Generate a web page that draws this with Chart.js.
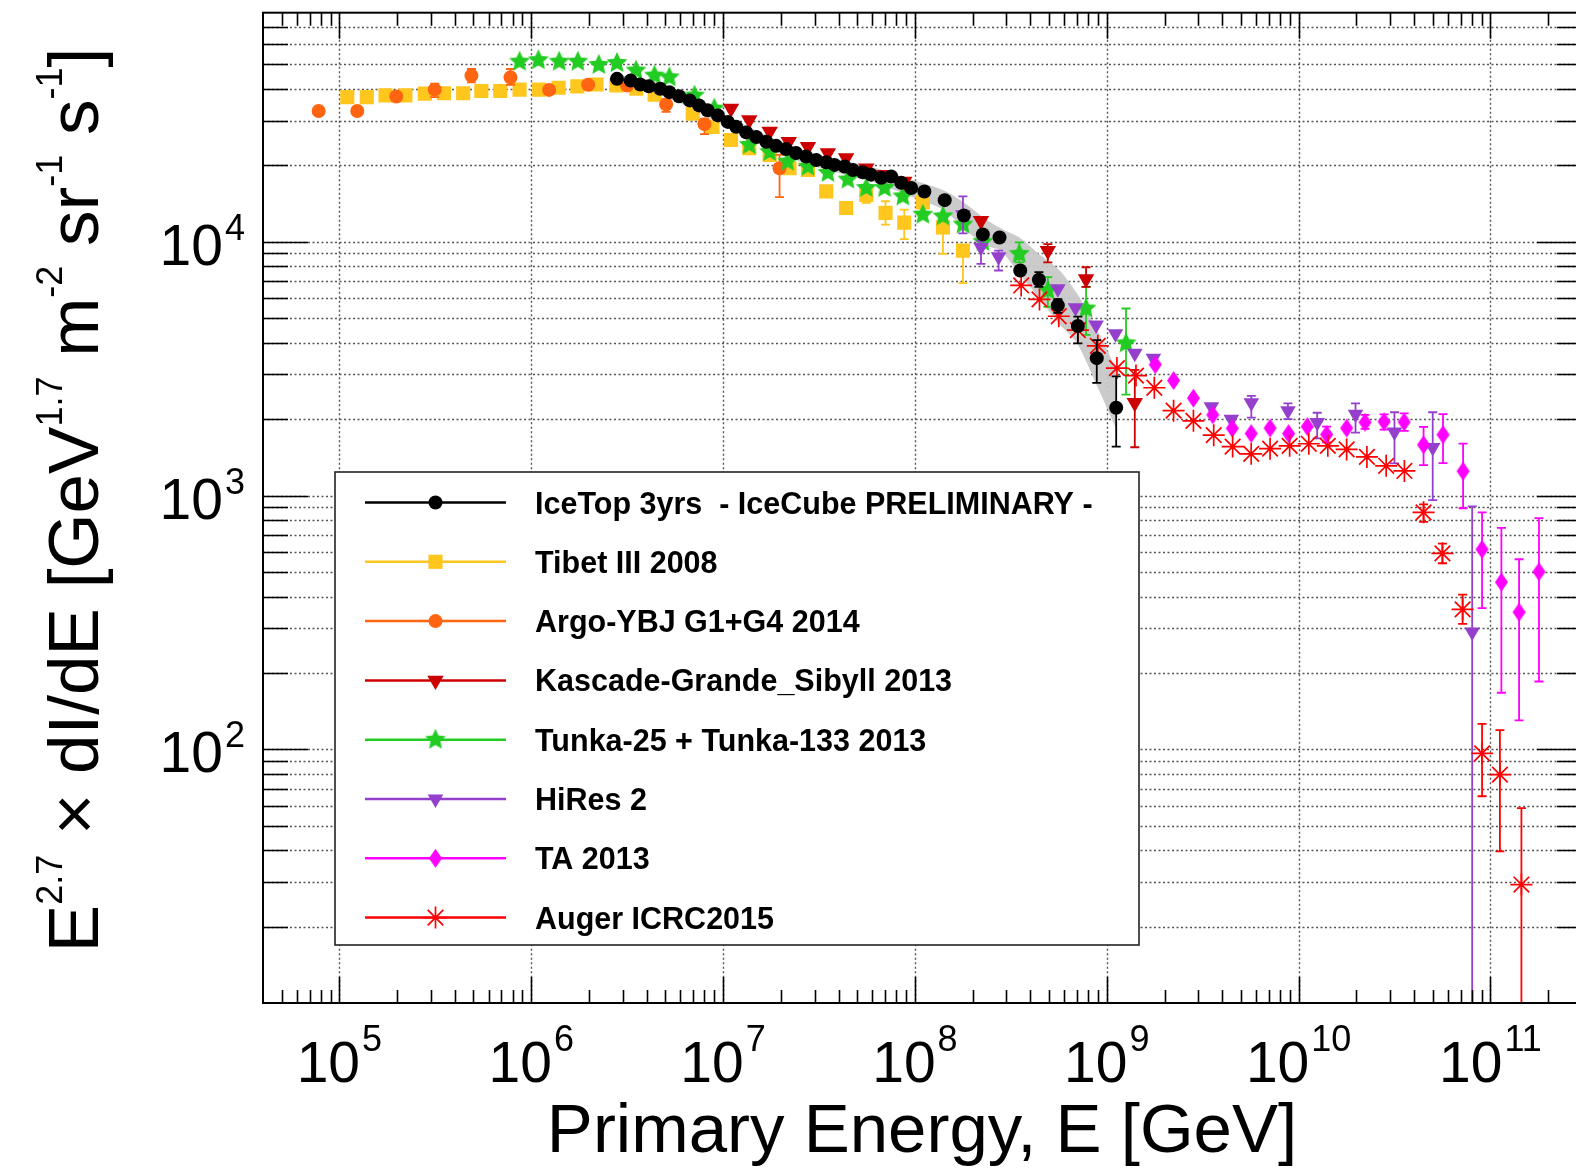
<!DOCTYPE html>
<html>
<head>
<meta charset="utf-8">
<title>All-particle cosmic ray spectrum</title>
<script src="https://cdn.jsdelivr.net/npm/chart.js@4/dist/chart.umd.min.js"></script>
<style>
  html, body { margin: 0; padding: 0; background: #fff; overflow: hidden; }
  #wrap { width: 1600px; height: 1169px; }
</style>
</head>
<body>
<div id="wrap"><canvas id="spectrum" width="1600" height="1169"></canvas></div>
<script>
// ===== Axis setup =====
const X_MIN = 4e4, X_MAX = 3e11
const Y_MIN = 10, Y_MAX = 8e4
const xTickExponents = [5, 6, 7, 8, 9, 10, 11]
const yTickExponents = [2, 3, 4]
const minorMultiples = [2, 3, 4, 5, 6, 7, 8, 9]
const xTitle = 'Primary Energy, E [GeV]'
// [text, superscript?]
const yTitleParts = [['E', 0], ['2.7', 1], [' \u00d7 dI/dE [GeV', 0], ['1.7', 1], [' m', 0], ['-2', 1], [' sr', 0], ['-1', 1], [' s', 0], ['-1', 1], [']', 0]]

// ===== IceTop 3yrs =====
const iceTopE = [2.8e6, 3.3e6, 3.7e6, 4.1e6, 4.7e6, 5.25e6, 5.9e6, 6.7e6, 7.5e6, 8.3e6, 9.4e6, 1.06e7, 1.17e7, 1.32e7, 1.49e7, 1.68e7, 1.89e7, 2.13e7, 2.4e7, 2.71e7, 3.06e7, 3.45e7, 3.81e7, 4.3e7, 4.75e7, 5.35e7, 5.9e7, 6.67e7, 7.52e7, 8.48e7, 9.57e7, 1.12e8, 1.43e8, 1.8e8, 2.26e8, 2.76e8, 3.54e8, 4.43e8, 5.56e8, 7.07e8, 8.87e8, 1.12e9]
const iceTopFlux = [43900, 43200, 41700, 41000, 40100, 38900, 37500, 36100, 34500, 33000, 31500, 29700, 28400, 27000, 25900, 24800, 23900, 23200, 22400, 21700, 21000, 20600, 20100, 19800, 19200, 18800, 18400, 17900, 18100, 17100, 16300, 15800, 14600, 12700, 10700, 10400, 7710, 7090, 5620, 4660, 3480, 2220]
const iceTopErrE = [3.54e8, 4.43e8, 5.56e8, 7.07e8, 8.87e8, 1.12e9]
const iceTopErrHi = [8000, 7590, 5950, 5070, 4100, 2950]
const iceTopErrLo = [7400, 6640, 5250, 3980, 2780, 1560]
// systematic band
const bandE = [2.8e6, 5e6, 1e7, 2e7, 3e7, 6e7, 1e8, 1.4e8, 1.8e8, 2.3e8, 2.8e8, 3.5e8, 4.4e8, 5.6e8, 7e8, 8.9e8, 1.12e9]
const bandHi = [45800, 41500, 31800, 24800, 22200, 19700, 17400, 16000, 14300, 12400, 11300, 10400, 9000, 7800, 6250, 4500, 3150]
const bandLo = [42000, 37300, 28800, 22200, 19800, 17200, 14900, 13400, 11300, 9700, 9230, 7480, 6070, 4780, 3980, 2700, 1830]

// ===== Tibet III 2008 =====
const tibetE = [1.10e5, 1.39e5, 1.74e5, 2.21e5, 2.79e5, 3.51e5, 4.42e5, 5.5e5, 6.9e5, 8.7e5, 1.10e6, 1.39e6, 1.74e6, 2.19e6, 2.78e6, 3.53e6, 4.40e6, 6.95e6, 8.8e6, 1.10e7, 1.37e7, 1.75e7, 2.22e7, 2.77e7, 3.45e7, 4.38e7, 5.58e7, 7.03e7, 8.8e7, 1.10e8, 1.40e8, 1.78e8]
const tibetFlux = [37200, 37200, 37800, 37800, 38400, 38500, 38500, 39300, 39300, 39800, 39800, 40500, 41000, 41700, 41300, 40100, 38000, 32000, 28400, 25200, 23400, 22000, 19500, 19200, 15800, 13600, 15300, 13000, 11900, 14300, 11400, 9230]
const tibetErrE = [5.58e7, 7.03e7, 8.8e7, 1.40e8, 1.78e8]
const tibetErrHi = [16300, 14450, 13400, 12100, 9640]
const tibetErrLo = [14250, 11700, 10250, 8960, 6870]

// ===== Argo-YBJ G1+G4 2014 =====
const argoE = [7.8e4, 1.24e5, 1.98e5, 3.14e5, 4.88e5, 7.8e5, 1.24e6, 1.98e6, 3.16e6, 5.05e6, 8.0e6, 1.97e7]
const argoFlux = [32800, 32800, 37400, 39800, 45200, 44500, 39700, 41600, 41300, 34800, 29100, 19500]
const argoErrE = [3.14e5, 4.88e5, 7.8e5, 5.05e6, 8.0e6, 1.97e7]
const argoErrHi = [42000, 48000, 48000, 36500, 30500, 22000]
const argoErrLo = [37200, 42500, 41600, 32500, 26600, 15000]

// ===== Kascade-Grande_Sibyll 2013 =====
const kgE = [1.10e7, 1.37e7, 1.75e7, 2.2e7, 2.77e7, 3.52e7, 4.38e7, 5.58e7, 6.95e7, 8.8e7, 2.21e8, 4.93e8, 7.8e8, 1.40e9]
const kgFlux = [33500, 30200, 27200, 24800, 23700, 22400, 21400, 19500, 18400, 17300, 12100, 9230, 7140, 2320]
const kgErrE = [4.93e8, 7.8e8, 1.40e9]
const kgErrHi = [9800, 7940, 3130]
const kgErrLo = [8300, 6640, 1550]

// ===== Tunka-25 + Tunka-133 2013 =====
const tunkaE = [8.7e5, 1.09e6, 1.40e6, 1.75e6, 2.25e6, 2.8e6, 3.52e6, 4.39e6, 5.25e6, 7.1e6, 9.0e6, 1.37e7, 1.75e7, 2.17e7, 2.77e7, 3.52e7, 4.47e7, 5.58e7, 6.95e7, 8.65e7, 1.1e8, 1.40e8, 1.78e8, 2.26e8, 3.5e8, 4.93e8, 7.8e8, 1.26e9]
const tunkaFlux = [51300, 52000, 51300, 51300, 49800, 50700, 47300, 45200, 44500, 37700, 33500, 24100, 22600, 20700, 19800, 18700, 17600, 16300, 16300, 15100, 12800, 12600, 11700, 10000, 8960, 6440, 5460, 3980]
const tunkaErrE = [3.5e8, 4.93e8, 7.8e8, 1.26e9]
const tunkaErrHi = [9950, 7260, 6640, 5460]
const tunkaErrLo = [8300, 5540, 4300, 2500]

// ===== HiRes 2 =====
const hiresE = [1.78e8, 2.21e8, 2.73e8, 5.56e8, 6.87e8, 8.8e8, 1.11e9, 1.40e9, 1.75e9, 3.51e9, 4.46e9, 5.67e9, 8.8e9, 1.25e10, 1.98e10, 3.16e10, 5.0e10, 8.03e10]
const hiresFlux = [12800, 9510, 8740, 6530, 5500, 4700, 4340, 3640, 3480, 2240, 2000, 2320, 2160, 1940, 2090, 1780, 1545, 290]
const hiresErrE = [1.78e8, 2.21e8, 2.73e8, 5.67e9, 8.8e9, 1.25e10, 1.98e10, 3.16e10, 5.0e10, 8.03e10]
const hiresErrHi = [15100, 10100, 9230, 2470, 2310, 2120, 2310, 2130, 2130, 906]
const hiresErrLo = [10800, 8180, 7710, 2030, 2000, 1680, 1770, 1340, 960, 1]

// ===== TA 2013 =====
const taE = [1.79e9, 2.23e9, 2.83e9, 3.57e9, 4.51e9, 5.66e9, 7.1e9, 8.87e9, 1.11e10, 1.40e10, 1.78e10, 2.22e10, 2.79e10, 3.55e10, 4.48e10, 5.66e10, 7.2e10, 9.04e10, 1.14e11, 1.41e11, 1.79e11]
const taFlux = [3280, 2840, 2420, 2080, 1840, 1755, 1845, 1755, 1870, 1740, 1845, 1945, 1955, 1950, 1585, 1738, 1248, 614, 456, 347, 501]
const taErrE = [1.40e10, 2.22e10, 2.79e10, 3.55e10, 4.48e10, 5.66e10, 7.2e10, 9.04e10, 1.14e11, 1.41e11, 1.79e11]
const taErrHi = [1870, 2080, 2090, 2110, 1866, 2094, 1603, 859, 746, 561, 815]
const taErrLo = [1620, 1830, 1820, 1800, 1318, 1343, 891, 360, 167, 130, 185]

// ===== Auger ICRC2015 =====
const augerE = [3.58e8, 4.46e8, 5.62e8, 7.07e8, 8.98e8, 1.13e9, 1.42e9, 1.77e9, 2.23e9, 2.83e9, 3.61e9, 4.53e9, 5.66e9, 7.1e9, 8.98e9, 1.13e10, 1.42e10, 1.78e10, 2.27e10, 2.86e10, 3.56e10, 4.48e10, 5.62e10, 7.16e10, 9.04e10, 1.12e11, 1.45e11]
const augerFlux = [6730, 5930, 5090, 4490, 3890, 3180, 2970, 2660, 2160, 1970, 1730, 1560, 1460, 1530, 1570, 1600, 1570, 1520, 1420, 1310, 1250, 859, 592, 356, 96.4, 79.5, 29.3]
const augerErrE = [4.48e10, 5.62e10, 7.16e10, 9.04e10, 1.12e11, 1.45e11]
const augerErrHi = [923, 647, 407, 126, 119, 58.6]
const augerErrLo = [787, 541, 312, 65.3, 39.6, 1]

const FONT = '"Liberation Sans", Arial, Helvetica, sans-serif'

// ===== Custom marker shapes =====
function starMarker(color, R, r) {
  const c = document.createElement('canvas')
  const s = Math.ceil(2 * R + 2)
  c.width = s; c.height = s
  const g = c.getContext('2d')
  g.fillStyle = color
  g.beginPath()
  for (let k = 0; k < 10; k++) {
    const a = -Math.PI / 2 + k * Math.PI / 5
    const rr = k % 2 ? r : R
    g.lineTo(s / 2 + rr * Math.cos(a), s / 2 + rr * Math.sin(a))
  }
  g.closePath()
  g.fill()
  return c
}

function diamondMarker(color, w, h) {
  const c = document.createElement('canvas')
  c.width = w + 2; c.height = h + 2
  const g = c.getContext('2d')
  g.fillStyle = color
  g.beginPath()
  g.moveTo(c.width / 2, 1)
  g.lineTo(c.width - 1, c.height / 2)
  g.lineTo(c.width / 2, c.height - 1)
  g.lineTo(1, c.height / 2)
  g.closePath()
  g.fill()
  return c
}

const series = [
  { label: 'IceTop 3yrs  - IceCube PRELIMINARY -', E: iceTopE, F: iceTopFlux, eE: iceTopErrE, eHi: iceTopErrHi, eLo: iceTopErrLo, color: '#000000', style: 'circle', radius: 7, rot: 0, order: 1 },
  { label: 'Tibet III 2008', E: tibetE, F: tibetFlux, eE: tibetErrE, eHi: tibetErrHi, eLo: tibetErrLo, color: '#ffc61e', style: 'rect', radius: 10, rot: 0, order: 8 },
  { label: 'Argo-YBJ G1+G4 2014', E: argoE, F: argoFlux, eE: argoErrE, eHi: argoErrHi, eLo: argoErrLo, color: '#ff6410', style: 'circle', radius: 7, rot: 0, order: 7 },
  { label: 'Kascade-Grande_Sibyll 2013', E: kgE, F: kgFlux, eE: kgErrE, eHi: kgErrHi, eLo: kgErrLo, color: '#cc0000', style: 'triangle', radius: 9.5, rot: 180, order: 5 },
  { label: 'Tunka-25 + Tunka-133 2013', E: tunkaE, F: tunkaFlux, eE: tunkaErrE, eHi: tunkaErrHi, eLo: tunkaErrLo, color: '#22cc22', style: starMarker('#22cc22', 11, 5.2), radius: 10, rot: 0, order: 6 },
  { label: 'HiRes 2', E: hiresE, F: hiresFlux, eE: hiresErrE, eHi: hiresErrHi, eLo: hiresErrLo, color: '#9440cc', style: 'triangle', radius: 9, rot: 180, order: 4 },
  { label: 'TA 2013', E: taE, F: taFlux, eE: taErrE, eHi: taErrHi, eLo: taErrLo, color: '#ff00ff', style: diamondMarker('#ff00ff', 13, 19), radius: 9, rot: 0, order: 3 },
  { label: 'Auger ICRC2015', E: augerE, F: augerFlux, eE: augerErrE, eHi: augerErrHi, eLo: augerErrLo, color: '#ff0000', style: 'star', radius: 11, rot: 0, order: 2 }
]

const datasets = series.map(s => ({
  label: s.label,
  data: s.E.map((e, i) => ({ x: e, y: s.F[i] })),
  errE: s.eE, errHi: s.eHi, errLo: s.eLo,
  pointStyle: s.style,
  pointRadius: s.radius,
  pointRotation: s.rot,
  backgroundColor: s.color,
  borderColor: s.color,
  borderWidth: s.style === 'star' ? 1.7 : 0,
  showLine: false,
  order: s.order
}))

// grey systematic band of IceTop, filled between two invisible lines
datasets.push({
  type: 'line', label: 'band hi',
  data: bandE.map((e, i) => ({ x: e, y: bandHi[i] })),
  borderWidth: 0, pointRadius: 0, tension: 0.3,
  backgroundColor: 'rgba(200,200,200,0.95)', fill: '+1', order: 20
})
datasets.push({
  type: 'line', label: 'band lo',
  data: bandE.map((e, i) => ({ x: e, y: bandLo[i] })),
  borderWidth: 0, pointRadius: 0, tension: 0.3, fill: false, order: 21
})

// ===== Plugins =====
function yGridValues() {
  const vals = []
  for (let e = 1; e <= 4; e++) {
    [1].concat(minorMultiples).forEach(m => {
      const v = m * Math.pow(10, e)
      if (v > Y_MIN && v < Y_MAX) vals.push({ v, major: m === 1 })
    })
  }
  return vals
}

function xTickValues() {
  const vals = []
  for (let e = 4; e <= 11; e++) {
    [1].concat(minorMultiples).forEach(m => {
      const v = m * Math.pow(10, e)
      if (v > X_MIN && v < X_MAX) vals.push({ v, major: m === 1 })
    })
  }
  return vals
}

const gridPlugin = {
  id: 'rootGrid',
  beforeDatasetsDraw(chart) {
    const { ctx, chartArea: a, scales: { x, y } } = chart
    ctx.save()
    ctx.strokeStyle = '#555'
    ctx.lineWidth = 1.4
    ctx.setLineDash([2, 2.5])
    yGridValues().forEach(t => {
      const py = Math.round(y.getPixelForValue(t.v)) + 0.5
      ctx.beginPath(); ctx.moveTo(a.left, py); ctx.lineTo(a.right, py); ctx.stroke()
    })
    xTickExponents.forEach(e => {
      const px = Math.round(x.getPixelForValue(Math.pow(10, e))) + 0.5
      ctx.beginPath(); ctx.moveTo(px, a.top); ctx.lineTo(px, a.bottom); ctx.stroke()
    })
    ctx.restore()
  }
}

const errorBarPlugin = {
  id: 'errorBars',
  beforeDatasetDraw(chart, args) {
    const ds = chart.data.datasets[args.index]
    if (!ds.errE) return
    const { ctx, chartArea: a, scales: { x, y } } = chart
    ctx.save()
    ctx.beginPath(); ctx.rect(a.left, a.top, a.right - a.left, a.bottom - a.top); ctx.clip()
    ctx.strokeStyle = ds.borderColor
    ctx.lineWidth = 1.8
    ds.errE.forEach((e, i) => {
      const px = x.getPixelForValue(e)
      const yHi = y.getPixelForValue(ds.errHi[i])
      const yLo = y.getPixelForValue(ds.errLo[i])
      ctx.beginPath()
      ctx.moveTo(px, yHi); ctx.lineTo(px, yLo)
      ctx.moveTo(px - 4.5, yHi); ctx.lineTo(px + 4.5, yHi)
      ctx.moveTo(px - 4.5, yLo); ctx.lineTo(px + 4.5, yLo)
      ctx.stroke()
    })
    ctx.restore()
  }
}

function drawMarker(ctx, s, cx, cy) {
  ctx.save()
  ctx.fillStyle = s.color
  ctx.strokeStyle = s.color
  const r = s.radius
  if (typeof s.style !== 'string') {
    ctx.drawImage(s.style, cx - s.style.width / 2, cy - s.style.height / 2)
  } else if (s.style === 'circle') {
    ctx.beginPath(); ctx.arc(cx, cy, r, 0, Math.PI * 2); ctx.fill()
  } else if (s.style === 'rect') {
    const h = r * Math.SQRT1_2
    ctx.fillRect(cx - h, cy - h, 2 * h, 2 * h)
  } else if (s.style === 'triangle') {
    ctx.beginPath()
    ctx.moveTo(cx, cy + r)
    ctx.lineTo(cx - r * 0.866, cy - r / 2)
    ctx.lineTo(cx + r * 0.866, cy - r / 2)
    ctx.closePath(); ctx.fill()
  } else if (s.style === 'star') {
    ctx.lineWidth = 1.7
    ctx.beginPath()
    for (let k = 0; k < 4; k++) {
      const ang = k * Math.PI / 4
      ctx.moveTo(cx - r * Math.cos(ang), cy - r * Math.sin(ang))
      ctx.lineTo(cx + r * Math.cos(ang), cy + r * Math.sin(ang))
    }
    ctx.stroke()
  }
  ctx.restore()
}

// "10" with a raised exponent
function drawPower(ctx, exp, x, baseY, big, small, raise, align) {
  ctx.font = big + 'px ' + FONT
  const w1 = ctx.measureText('10').width
  ctx.font = small + 'px ' + FONT
  const w2 = ctx.measureText(String(exp)).width
  const gap = 2
  const total = w1 + gap + w2
  const x0 = align === 'center' ? x - total / 2 : x - total
  ctx.textAlign = 'left'
  ctx.textBaseline = 'alphabetic'
  ctx.font = big + 'px ' + FONT
  ctx.fillText('10', x0, baseY)
  ctx.font = small + 'px ' + FONT
  ctx.fillText(String(exp), x0 + w1 + gap, baseY - raise)
}

const decorPlugin = {
  id: 'rootDecor',
  afterDatasetsDraw(chart) {
    const { ctx, chartArea: a, scales: { x, y } } = chart
    ctx.save()

    // legend box
    const lg = { left: 335, top: 472, right: 1139, bottom: 945 }
    ctx.fillStyle = '#fff'
    ctx.fillRect(lg.left, lg.top, lg.right - lg.left, lg.bottom - lg.top)
    ctx.strokeStyle = '#222'
    ctx.lineWidth = 1.6
    ctx.strokeRect(lg.left, lg.top, lg.right - lg.left, lg.bottom - lg.top)
    series.forEach((s, i) => {
      const cy = lg.top + 30.5 + i * 59.3
      ctx.strokeStyle = s.color
      ctx.lineWidth = 2.5
      ctx.beginPath(); ctx.moveTo(365, cy); ctx.lineTo(506, cy); ctx.stroke()
      drawMarker(ctx, s, 435.5, cy)
      ctx.fillStyle = '#000'
      ctx.font = 'bold 30.5px ' + FONT
      ctx.textAlign = 'left'
      ctx.textBaseline = 'alphabetic'
      ctx.fillText(s.label, 535, cy + 11)
    })

    // frame
    ctx.strokeStyle = '#000'
    ctx.lineWidth = 2
    ctx.strokeRect(a.left, a.top, a.right - a.left, a.bottom - a.top)

    // ticks, drawn inwards like ROOT
    ctx.lineWidth = 1.6
    ctx.beginPath()
    xTickValues().forEach(t => {
      const px = Math.round(x.getPixelForValue(t.v)) + 0.5
      const len = t.major ? 26 : 13
      ctx.moveTo(px, a.bottom); ctx.lineTo(px, a.bottom - len)
      ctx.moveTo(px, a.top); ctx.lineTo(px, a.top + len)
    })
    yGridValues().forEach(t => {
      const py = Math.round(y.getPixelForValue(t.v)) + 0.5
      const len = t.major ? 45 : 25
      ctx.moveTo(a.left, py); ctx.lineTo(a.left + len, py)
      ctx.moveTo(a.right, py); ctx.lineTo(a.right - len, py)
    })
    ctx.stroke()

    // tick labels
    ctx.fillStyle = '#000'
    xTickExponents.forEach(e => {
      drawPower(ctx, e, x.getPixelForValue(Math.pow(10, e)), 1082, 57, 36, 31, 'center')
    })
    yTickExponents.forEach(e => {
      const py = y.getPixelForValue(Math.pow(10, e))
      drawPower(ctx, e, 245, py + 23, 57, 36, 25, 'right')
    })

    // x title
    ctx.font = '69px ' + FONT
    ctx.textAlign = 'center'
    ctx.fillText(xTitle, 922, 1152)

    // y title, rotated
    const F = 71, S = 36, RAISE = 36
    ctx.translate(98, 500)
    ctx.rotate(-Math.PI / 2)
    let total = 0
    yTitleParts.forEach(p => {
      ctx.font = (p[1] ? S : F) + 'px ' + FONT
      total += ctx.measureText(p[0]).width
    })
    let cx = -total / 2
    ctx.textAlign = 'left'
    yTitleParts.forEach(p => {
      ctx.font = (p[1] ? S : F) + 'px ' + FONT
      ctx.fillText(p[0], cx, p[1] ? -RAISE : 0)
      cx += ctx.measureText(p[0]).width
    })
    ctx.restore()
  }
}

// ===== Chart =====
const canvasEl = document.getElementById('spectrum')
const spectrumChart = new Chart(canvasEl.getContext('2d'), {
  type: 'scatter',
  data: { datasets: datasets },
  options: {
    responsive: false,
    animation: false,
    devicePixelRatio: 1,
    events: [],
    layout: { padding: { left: 263, right: 18, top: 7, bottom: 166 } },
    plugins: { legend: { display: false }, tooltip: { enabled: false } },
    scales: {
      x: { type: 'logarithmic', display: false, min: X_MIN, max: X_MAX },
      y: { type: 'logarithmic', display: false, min: Y_MIN, max: Y_MAX }
    }
  },
  plugins: [gridPlugin, errorBarPlugin, decorPlugin]
})
</script>
</body>
</html>
